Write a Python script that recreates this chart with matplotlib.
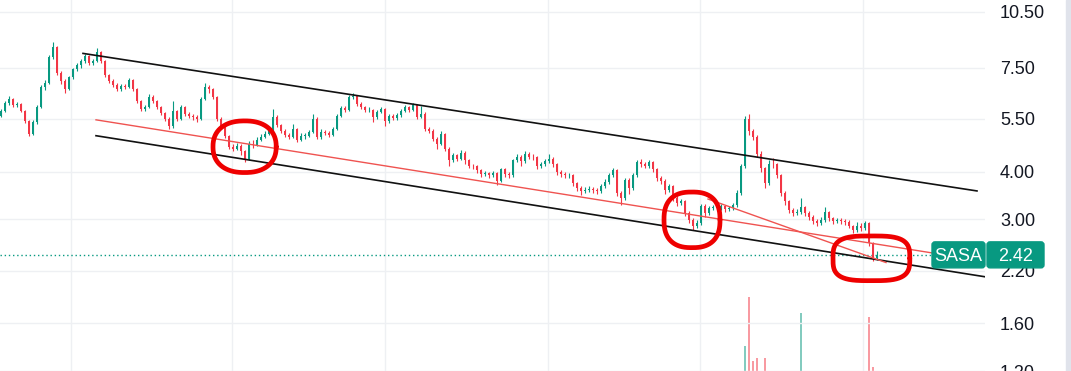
import matplotlib
matplotlib.use("Agg")
import numpy as np
import matplotlib.pyplot as plt
import matplotlib.patches as patches
import matplotlib.transforms as transforms

plt.rcParams['font.family'] = ['Liberation Sans', 'DejaVu Sans']

# price data (one candle ~ a few sessions)
first_open = 5.60
close = [
    5.77, 6.05, 6.20, 5.98, 6.02, 5.77, 5.43, 5.03, 5.40, 5.91,
    6.67, 6.83, 7.98, 8.47, 7.24, 6.91, 6.58, 7.07, 7.42, 7.60,
    7.79, 8.03, 7.70, 7.79, 8.22, 7.79, 7.16, 6.91, 6.75, 6.58,
    6.71, 6.67, 6.95, 6.58, 6.13, 5.84, 5.91, 6.28, 6.13, 5.91,
    5.70, 5.50, 5.27, 5.77, 5.50, 5.91, 5.67, 5.60, 5.57, 5.50,
    6.20, 6.67, 6.58, 6.28, 5.50, 5.27, 4.97, 4.65, 4.60, 4.68,
    4.52, 4.33, 4.74, 4.71, 4.85, 4.94, 5.03, 5.15, 5.57, 5.30,
    5.12, 5.00, 4.94, 5.18, 4.85, 4.97, 4.97, 5.09, 5.50, 4.94,
    5.09, 5.06, 5.00, 5.18, 5.60, 5.88, 5.81, 6.28, 6.32, 6.02,
    5.91, 5.81, 5.81, 5.57, 5.74, 5.84, 5.43, 5.60, 5.53, 5.63,
    5.77, 5.91, 5.81, 5.98, 5.57, 5.67, 5.18, 5.12, 4.88, 4.74,
    5.03, 4.60, 4.28, 4.41, 4.33, 4.49, 4.28, 4.15, 4.13, 4.03,
    3.94, 3.96, 3.91, 3.96, 3.78, 4.06, 3.94, 3.91, 4.28, 4.38,
    4.26, 4.46, 4.38, 4.36, 4.13, 4.18, 4.26, 4.33, 4.18, 3.98,
    3.94, 3.91, 3.91, 3.73, 3.62, 3.56, 3.58, 3.60, 3.58, 3.56,
    3.67, 3.76, 3.91, 4.03, 3.52, 3.41, 3.80, 3.62, 3.91, 4.23,
    4.18, 4.15, 4.23, 4.06, 3.84, 3.78, 3.58, 3.67, 3.41, 3.31,
    3.35, 3.12, 2.99, 2.88, 2.93, 3.25, 3.12, 3.21, 3.23, 3.21,
    3.25, 3.19, 3.21, 3.27, 3.52, 4.13, 5.50, 5.10, 4.94, 4.46,
    4.08, 3.73, 4.20, 4.18, 3.91, 3.52, 3.35, 3.18, 3.12, 3.14,
    3.23, 3.12, 3.05, 2.97, 2.93, 2.99, 3.14, 3.02, 2.97, 2.99,
    2.97, 2.95, 2.88, 2.81, 2.88, 2.85, 2.93, 2.60, 2.37, 2.42,
]
high = [
    5.85, 6.12, 6.30, 6.24, 6.10, 6.06, 5.80, 5.48, 5.45, 5.98,
    6.75, 6.95, 8.10, 8.75, 8.55, 7.35, 7.00, 7.12, 7.50, 7.70,
    7.90, 8.15, 8.10, 7.88, 8.45, 8.30, 7.85, 7.22, 7.00, 6.82,
    6.80, 6.78, 7.05, 7.00, 6.62, 6.18, 6.00, 6.40, 6.35, 6.18,
    5.95, 5.75, 5.55, 6.13, 5.82, 6.00, 5.95, 5.72, 5.66, 5.62,
    6.28, 6.85, 6.75, 6.62, 6.32, 5.55, 5.30, 5.00, 4.72, 4.76,
    4.72, 4.56, 4.82, 4.85, 4.92, 5.02, 5.10, 5.22, 5.84, 5.62,
    5.35, 5.16, 5.06, 5.35, 5.22, 5.05, 5.06, 5.15, 5.67, 5.55,
    5.16, 5.14, 5.12, 5.25, 5.66, 5.95, 5.95, 6.36, 6.45, 6.36,
    6.08, 5.96, 5.90, 5.85, 5.80, 5.92, 5.88, 5.66, 5.66, 5.70,
    5.84, 5.98, 5.96, 6.05, 6.02, 5.95, 5.72, 5.25, 5.16, 4.92,
    5.10, 5.06, 4.64, 4.48, 4.46, 4.56, 4.52, 4.32, 4.20, 4.16,
    4.06, 4.02, 4.00, 4.02, 3.99, 4.10, 4.10, 3.99, 4.33, 4.45,
    4.42, 4.52, 4.50, 4.44, 4.40, 4.24, 4.32, 4.46, 4.36, 4.22,
    4.03, 3.99, 3.97, 3.94, 3.76, 3.66, 3.64, 3.66, 3.64, 3.62,
    3.72, 3.82, 3.96, 4.10, 4.06, 3.56, 3.85, 3.84, 3.96, 4.28,
    4.33, 4.24, 4.28, 4.26, 4.10, 3.90, 3.82, 3.72, 3.70, 3.45,
    3.40, 3.38, 3.16, 3.02, 2.98, 3.30, 3.29, 3.26, 3.28, 3.27,
    3.30, 3.28, 3.25, 3.32, 3.58, 4.20, 5.60, 5.67, 5.16, 5.00,
    4.52, 4.12, 4.30, 4.35, 4.22, 3.95, 3.56, 3.38, 3.22, 3.20,
    3.41, 3.26, 3.15, 3.08, 3.00, 3.04, 3.24, 3.16, 3.05, 3.03,
    3.02, 3.00, 2.98, 2.90, 2.95, 2.93, 2.97, 2.95, 2.62, 2.47,
]
low = [
    5.55, 5.72, 6.00, 5.92, 5.90, 5.72, 5.38, 4.95, 4.98, 5.35,
    5.88, 6.55, 6.80, 7.90, 7.15, 6.80, 6.45, 6.55, 7.00, 7.35,
    7.50, 7.72, 7.62, 7.60, 7.75, 7.70, 7.08, 6.82, 6.68, 6.50,
    6.52, 6.58, 6.62, 6.50, 6.05, 5.78, 5.78, 5.88, 6.05, 5.84,
    5.62, 5.42, 5.18, 5.22, 5.42, 5.45, 5.60, 5.52, 5.48, 5.40,
    5.48, 6.15, 6.45, 6.20, 5.42, 5.18, 4.90, 4.58, 4.52, 4.55,
    4.42, 4.25, 4.30, 4.62, 4.66, 4.80, 4.90, 4.98, 5.12, 5.24,
    5.05, 4.92, 4.86, 4.90, 4.78, 4.80, 4.88, 4.92, 5.05, 4.88,
    4.88, 4.98, 4.94, 4.96, 5.14, 5.55, 5.72, 5.78, 6.20, 5.95,
    5.84, 5.74, 5.72, 5.40, 5.50, 5.70, 5.27, 5.38, 5.46, 5.48,
    5.58, 5.72, 5.74, 5.76, 5.50, 5.52, 5.10, 5.05, 4.80, 4.60,
    4.70, 4.52, 4.13, 4.24, 4.26, 4.28, 4.20, 4.08, 4.06, 3.96,
    3.88, 3.89, 3.86, 3.87, 3.70, 3.75, 3.88, 3.85, 3.88, 4.24,
    4.15, 4.22, 4.32, 4.30, 4.06, 4.08, 4.14, 4.22, 4.12, 3.92,
    3.88, 3.85, 3.84, 3.67, 3.56, 3.48, 3.52, 3.53, 3.52, 3.50,
    3.52, 3.63, 3.72, 3.88, 3.45, 3.27, 3.38, 3.50, 3.58, 3.88,
    4.12, 4.08, 4.10, 4.00, 3.78, 3.72, 3.50, 3.53, 3.35, 3.25,
    3.27, 3.06, 2.93, 2.81, 2.84, 2.90, 3.05, 3.08, 3.17, 3.16,
    3.17, 3.14, 3.15, 3.17, 3.24, 3.48, 4.08, 5.00, 4.85, 4.38,
    4.00, 3.62, 3.70, 4.10, 3.84, 3.45, 3.28, 3.12, 3.06, 3.08,
    3.10, 3.06, 2.99, 2.92, 2.88, 2.89, 2.96, 2.97, 2.92, 2.94,
    2.92, 2.90, 2.84, 2.76, 2.78, 2.80, 2.82, 2.56, 2.33, 2.34,
]

# volume spikes (millions), everything else too small to show
vol_bars = [186, 187, 188, 189, 191, 200, 217, 218]
vol_vals = [2.5, 7.4, 1.0, 1.3, 1.3, 5.8, 5.4, 0.4]

# drawn lines: (bar index, price) end points
upper_chan = ([20.5, 244.0], [8.17, 3.56])
lower_chan = ([23.75, 246.0], [4.97, 2.12])
red_trend = ([23.75, 234.75], [5.47, 2.43])
red_trend2 = ([176.75, 221.25], [3.39, 2.31])

# hand drawn loops: centre bar, centre price, half width (bars), half height (log), squareness
loops = [
    (60.9, 4.65, 7.9, 0.156, 2.3),
    (172.75, 2.99, 7.0, 0.168, 2.5),
    (217.6, 2.37, 9.6, 0.135, 3.3),
]

yticks = [10.50, 7.50, 5.50, 4.00, 3.00, 2.20, 1.60, 1.20]
month_lines = [17.5, 57.75, 96.0, 136.75, 174.75, 215.5]
ticker = "SASA"

UP = "#089981"
DOWN = "#f23645"

W, H = 1071, 371
fig = plt.figure(figsize=(W / 100, H / 100), dpi=100)
fig.patch.set_facecolor("white")
ax = fig.add_axes([0, 0, 985 / W, 1])
axv = fig.add_axes([0, 0, 985 / W, 1], sharex=ax)
axv.set_zorder(0)
ax.set_zorder(1)
ax.patch.set_alpha(0)
axv.axis("off")

opens = [first_open] + close[:-1]
x = np.arange(len(close))
cols = [UP if c >= o else DOWN for o, c in zip(opens, close)]
hi = [max(h, o, c) for h, o, c in zip(high, opens, close)]
lo = [min(l, o, c) for l, o, c in zip(low, opens, close)]

ax.set_yscale("log")
ax.vlines(x, lo, hi, colors=cols, lw=0.8, zorder=3)
bottoms = [min(o, c) for o, c in zip(opens, close)]
heights = [max(abs(c - o), 0.01) for o, c in zip(opens, close)]
ax.bar(x, heights, bottom=bottoms, width=0.55, color=cols, lw=0, zorder=3)

vcols = [cols[i] for i in vol_bars]
axv.bar(vol_bars, vol_vals, width=0.35, color=vcols, alpha=0.5, lw=0)
axv.set_ylim(0, 37.1)

ax.plot(*upper_chan, color="#111111", lw=1.2, zorder=4)
ax.plot(*lower_chan, color="#111111", lw=1.2, zorder=4)
ax.plot(*red_trend, color="#ef5350", lw=1.0, zorder=4)
ax.plot(*red_trend2, color="#ef5350", lw=1.0, zorder=4)

t = np.linspace(0, 2 * np.pi, 300)
for kc, pc, a, b, n in loops:
    c, s = np.cos(t), np.sin(t)
    lx = kc + a * np.sign(c) * np.abs(c) ** (2 / n)
    ly = pc * np.exp(b * np.sign(s) * np.abs(s) ** (2 / n))
    ax.plot(lx, ly, color="#ee0000", lw=3.4, solid_capstyle="round", zorder=6)

ax.axhline(close[-1], color=UP, lw=1.0, ls=(0, (1, 2)), zorder=2)

ax.set_xlim(-0.25, 246)
ax.set_ylim(1.2236, 11.28)
ax.set_yticks(yticks)
ax.set_yticklabels(["%.2f" % v for v in yticks])
ax.yaxis.set_minor_locator(matplotlib.ticker.NullLocator())
ax.yaxis.tick_right()
ax.tick_params(axis="y", length=0, pad=10.8, labelsize=13, labelcolor="#131722")
ax.set_xticks(month_lines)
ax.set_xticklabels([])
ax.tick_params(axis="x", length=0)
ax.grid(True, color="#eef0f3", lw=1.0)
ax.set_axisbelow(True)
for sp in ax.spines.values():
    sp.set_visible(False)

# last price label
yc = ax.transData.transform((0, close[-1]))[1]
ident = transforms.IdentityTransform()
fig.add_artist(patches.FancyBboxPatch((932, yc - 13), 53, 26, boxstyle="round,pad=0,rounding_size=3",
                                      transform=ident, color=UP, zorder=10))
fig.add_artist(patches.FancyBboxPatch((987, yc - 13), 57, 26, boxstyle="round,pad=0,rounding_size=3",
                                      transform=ident, color=UP, zorder=10))
fig.text(958.5, yc, ticker, transform=ident, color="white", fontsize=13, ha="center", va="center_baseline", zorder=11)
fig.text(1015.5, yc, "%.2f" % close[-1], transform=ident, color="white", fontsize=13, ha="center", va="center_baseline", zorder=11)

fig.add_artist(patches.Rectangle((1066 / W, 0), 5 / W, 1, transform=fig.transFigure, color="#e0e3eb", zorder=0))

fig.savefig("out.png", dpi=100)
